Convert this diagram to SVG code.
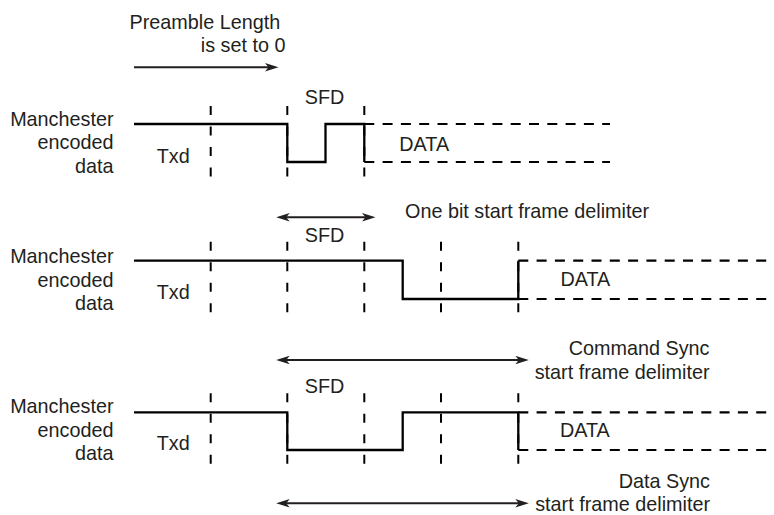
<svg xmlns="http://www.w3.org/2000/svg" width="774" height="515" viewBox="0 0 774 515">
<defs>
<style>
text{font-family:"Liberation Sans",Arial,sans-serif;font-size:19.8px;fill:#231f20}
.r{text-anchor:end}
.m{text-anchor:middle}
.wave{fill:none;stroke:#000;stroke-width:2.3;stroke-linejoin:miter}
.ddata{fill:none;stroke:#000;stroke-width:2.2;stroke-dasharray:10 8.3}
.guide{fill:none;stroke:#000;stroke-width:2;stroke-dasharray:9 11.5}
.arr{fill:none;stroke:#231f20;stroke-width:2}
</style>
<marker id="ah" markerUnits="userSpaceOnUse" markerWidth="14" markerHeight="10" refX="7" refY="4.5" orient="auto-start-reverse" viewBox="0 0 14 10">
<path d="M0,0.3 L13.5,4.5 L0,8.7 L3.5,4.5 z" fill="#231f20"/>
</marker>
</defs>

<g id="title">
<text x="129.5" y="29">Preamble Length</text>
<text class="r" x="285.5" y="52">is set to 0</text>
</g>

<g id="row1">
<text class="r" x="113.5" y="125.5">Manchester</text>
<text class="r" x="113.5" y="149">encoded</text>
<text class="r" x="113.5" y="172.5">data</text>
<text x="156.7" y="162.7">Txd</text>
<text class="m" x="324.5" y="104">SFD</text>
<text x="399.3" y="150.7">DATA</text>
<path class="guide" d="M210.7,106V180M287.3,106V180M364.3,106V180"/>
<path class="wave" d="M134,124H287.3V162H325.5V124H364.3V162"/>
<path class="ddata" d="M364.3,124H610M364.3,162H610"/>
</g>

<g id="row2">
<text class="r" x="113.5" y="263.3">Manchester</text>
<text class="r" x="113.5" y="286.5">encoded</text>
<text class="r" x="113.5" y="310">data</text>
<text x="156.7" y="299.3">Txd</text>
<text class="m" x="324.5" y="241.7">SFD</text>
<text x="560.5" y="285.7">DATA</text>
<text x="405" y="217.5">One bit start frame delimiter</text>
<path class="guide" d="M210.7,241.7V317M287.3,241.7V317M364.3,241.7V317M441,241.7V317M518.3,241.7V317"/>
<path class="wave" d="M134,260.7H402.7V299H518.3V260.7"/>
<path class="ddata" d="M518.3,260.7H774M518.3,299H774"/>
</g>

<g id="row3">
<text class="r" x="113.5" y="413.3">Manchester</text>
<text class="r" x="113.5" y="436.5">encoded</text>
<text class="r" x="113.5" y="460">data</text>
<text x="156.7" y="450">Txd</text>
<text class="m" x="324.5" y="392.5">SFD</text>
<text x="560" y="437.3">DATA</text>
<text class="r" x="709.5" y="354.5">Command Sync</text>
<text class="r" x="709.5" y="379.3">start frame delimiter</text>
<text class="r" x="710" y="488.3">Data Sync</text>
<text class="r" x="710" y="510.7">start frame delimiter</text>
<path class="guide" d="M210.7,393.3V467M287.3,393.3V467M364.3,393.3V467M441,393.3V467M518.3,393.3V467"/>
<path class="wave" d="M134,412.3H287.3V450H402.7V412.3H518.3V450"/>
<path class="ddata" d="M518.3,412.3H774M518.3,450H774"/>
</g>

<g id="connectors">
<line class="arr" x1="134" y1="67.3" x2="272" y2="67.3" marker-end="url(#ah)"/>
<line class="arr" x1="282.7" y1="217.3" x2="369" y2="217.3" marker-start="url(#ah)" marker-end="url(#ah)"/>
<line class="arr" x1="282.7" y1="360" x2="522.3" y2="360" marker-start="url(#ah)" marker-end="url(#ah)"/>
<line class="arr" x1="282.7" y1="503.3" x2="522.3" y2="503.3" marker-start="url(#ah)" marker-end="url(#ah)"/>
</g>
</svg>
